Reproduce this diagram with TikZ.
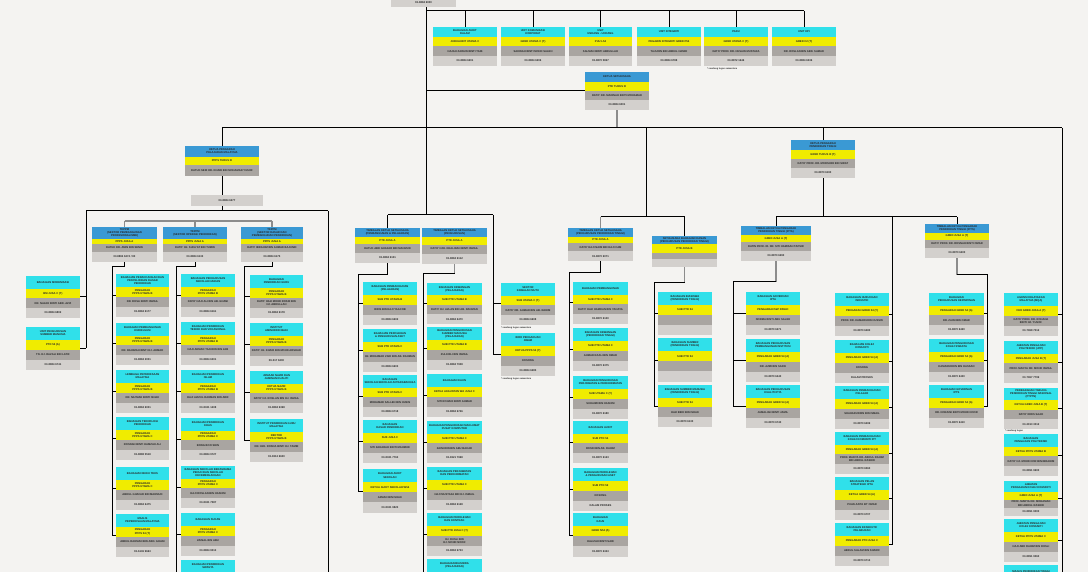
\documentclass[tikz,border=0pt]{standalone}
\usepackage{fontspec}
\setmainfont{Liberation Sans}
\usetikzlibrary{fit}
\definecolor{bg}{HTML}{F4F3F1}
\definecolor{cy}{HTML}{30E0EA}
\definecolor{bl}{HTML}{3A99D4}
\definecolor{yl}{HTML}{F0EC00}
\definecolor{gr}{HTML}{A9A5A1}
\definecolor{lg}{HTML}{D3D0CD}
\definecolor{gl}{HTML}{8C8C8C}
\tikzset{
 ln/.style={draw=black, line width=1pt},
 gln/.style={draw=gl, line width=1.4pt},
 txt/.style={font=\fontsize{2.7}{3.1}\selectfont\bfseries, align=center, inner sep=0pt, text=black!85},
 note/.style={font=\fontsize{2.3}{2.7}\selectfont\bfseries, anchor=north west, inner sep=0pt, text=black!85},
 frame/.style={inner sep=0pt, draw=none},
}
\newcommand\bandset[4]{\def\hcol{#1}\def\fa{#2}\def\fb{#3}\def\fc{#4}}
\newcommand\mkbox[9]{%
 \pgfmathsetmacro\ya{#3+\fa*(#5-(#3))}%
 \pgfmathsetmacro\yb{#3+\fb*(#5-(#3))}%
 \pgfmathsetmacro\yc{#3+\fc*(#5-(#3))}%
 \pgfmathsetmacro\xm{(#2+#4)/2}%
 \fill[\hcol] (#2,#3) rectangle (#4,\ya);
 \fill[yl] (#2,\ya) rectangle (#4,\yb);
 \fill[gr] (#2,\yb) rectangle (#4,\yc);
 \fill[lg] (#2,\yc) rectangle (#4,#5);
 \node[frame, fit={(#2,#3) (#4,#5)}] (#1) {};
 \node[txt] (#1-a) at (\xm,{(#3+\ya)/2}) {#6};
 \node[txt] (#1-b) at (\xm,{(\ya+\yb)/2}) {#7};
 \node[txt] (#1-c) at (\xm,{(\yb+\yc)/2}) {#8};
 \node[txt] (#1-d) at (\xm,{(\yc+#5)/2}) {#9};
}
\newcommand\ob{\bandset{cy}{0.3}{0.53}{0.76}\mkbox}
\begin{document}
\begin{tikzpicture}[x=1pt,y=-1pt]
\useasboundingbox (0,0) rectangle (1088,572);
\fill[bg] (0,0) rectangle (1088,572);
\clip (0,0) rectangle (1088,572);

% ---------- top ----------
\bandset{bl}{0.28}{0.5}{0.76}
\mkbox{top}{391}{-30}{456}{7}{}{}{}{03-8884 6000}

\bandset{cy}{0.26}{0.5}{0.74}
\mkbox{t1}{433}{27}{497}{66}{BAHAGIAN AUDIT\\DALAM}{JURUAUDIT UTAMA C}{HAJAH ZAINUN BINTI TAIB}{03-8884 6201}
\mkbox{t2}{501}{27}{565}{66}{UNIT KOMUNIKASI\\KORPORAT}{GRED UTAMA C (T)}{SAKINAH BINTI MOHD SALEH}{03-8884 6206}
\mkbox{t3}{569}{27}{632}{66}{UNIT\\UNDANG - UNDANG}{PUU L54}{SALMAH BINTI ABDULLAH}{03-8870 5827}
\mkbox{t4}{637}{27}{701}{66}{UNIT INTEGRITI}{PEGAWAI INTEGRITI GRED P54}{TAJUDIN BIN ABDUL HAMID}{03-8884 6788}
\mkbox{t5}{704}{27}{768}{66}{PADU}{GRED UTAMA C (T)}{DATO' PROF. DR. HUSAIN MUSTAFA}{03-8872 1646}
\mkbox{t6}{772}{27}{836}{66}{UNIT KPI}{GRED C2 (T)}{DR. ROSLAN BIN ABD. SAMAD}{03-8884 6336}
\node[note] (nt5) at (707,68) {* sandang tugas sementara};

\bandset{bl}{0.26}{0.5}{0.74}
\mkbox{ksu}{585}{72}{649}{110}{KETUA SETIAUSAHA}{PTD TURUS III}{DATO' DR. MADINAH BINTI MOHAMAD}{03-8884 6001}
\mkbox{kpt}{791}{140}{855}{178}{KETUA PENGARAH\\PENDIDIKAN TINGGI}{GRED TURUS III (T)}{DATO' PROF. DR. MORSHIDI BIN SIRAT}{03-8870 6190}

% KPPM with detached phone band
\fill[bl] (185,146) rectangle (259,157);
\fill[yl] (185,157) rectangle (259,165);
\fill[gr] (185,165) rectangle (259,176);
\node[frame, fit={(185,146) (259,176)}] (kpp) {};
\node[txt] (kpp-a) at (222,151.5) {KETUA PENGARAH\\PELAJARAN MALAYSIA};
\node[txt] (kpp-b) at (222,161) {PPPS TURUS III};
\node[txt] (kpp-c) at (222,170.5) {DATUK SERI DR. KHAIR BIN MOHAMAD YUSOF};
\fill[lg] (191,195) rectangle (263,206);
\node[frame, fit={(191,195) (263,206)}] (kppph) {};
\node[txt] (kppph-t) at (227,200.5) {03-8884 6277};

% TKPPM
\bandset{bl}{0.34}{0.49}{0.71}
\mkbox{tkA}{92}{227}{157}{262}{TKPPM\\(SEKTOR PEMBANGUNAN\\PROFESIONALISME)}{PPPS JUSA A}{DATUK DR. AMIN BIN SENIN}{03-8884 6274 / 80}
\mkbox{tkB}{163}{227}{227}{262}{TKPPM\\(SEKTOR OPERASI PENDIDIKAN)}{PPPS JUSA A}{DATO' HJ. SUFA'AT BIN TUMIN}{03-8884 6133}
\mkbox{tkC}{241}{227}{303}{262}{TKPPM\\(SEKTOR DASAR DAN\\PEMBANGUNAN PENDIDIKAN)}{PPPS JUSA A}{DATO' IBRAHIM BIN AHMAD BAJUNID}{03-8884 6175}

% TKSU and TKPT
\bandset{bl}{0.26}{0.46}{0.71}
\mkbox{s1}{355}{228}{420}{263}{TIMBALAN KETUA SETIAUSAHA\\(PEMBANGUNAN \& PELAJARAN)}{PTD JUSA A}{DATUK ABD GHAFAR BIN MAHMUD}{03-8884 6101}
\mkbox{s2}{422}{228}{487}{264}{TIMBALAN KETUA SETIAUSAHA\\(PENGURUSAN)}{PTD JUSA A}{DATO' HJH. KHALIDAH BINTI ISMAIL}{03-8884 6112}
\mkbox{s3}{568}{228}{633}{261}{TIMBALAN KETUA SETIAUSAHA\\(PENGURUSAN PENDIDIKAN TINGGI)}{PTD JUSA A}{DATO' HAJI NAIM BIN HAJI CAM}{03-8870 6071}
\mkbox{k1}{741}{226}{811}{261}{TIMBALAN KETUA PENGARAH\\PENDIDIKAN TINGGI (IPTA)}{GRED JUSA A (T)}{DATIN PROF. IR. DR. SITI HAMISAH TAPSIR}{03-8870 6290}
\mkbox{k2}{925}{224}{989}{258}{TIMBALAN KETUA PENGARAH\\PENDIDIKAN TINGGI (IPTS)}{GRED JUSA A (T)}{DATO' PROF. DR. ROSNAH BINTI OMAR}{03-8870 6400}
\bandset{bl}{0.26}{0.54}{0.74}
\mkbox{s4}{652}{236}{717}{267}{SETIAUSAHA BAHAGIAN KANAN\\(PENGURUSAN PENDIDIKAN TINGGI)}{PTD JUSA B}{}{}

% ---------- left ----------
\ob{L1}{26}{276}{80}{318}{BAHAGIAN MODENISASI}{BM JUSA C (T)}{DR. NAJAH BINTI ABD. AZIZ}{03-8884 6802}
\ob{L2}{26}{327}{80}{370}{UNIT PENGURUSAN\\SUMBER MANUSIA}{PTD 54 (A)}{TN. HJ. RAZALI BIN LATIF}{03-8884 6741}

\ob{a1}{116}{274}{169}{317}{BAHAGIAN PERANCANGAN DAN\\PENYELIDIKAN DASAR\\PENDIDIKAN}{PENGARAH\\PPPS UTAMA B}{DR. ROSLI BINTI ISMAIL}{03-8884 6177}
\ob{a2}{116}{323}{169}{365}{BAHAGIAN PEMBANGUNAN\\KURIKULUM}{PENGARAH\\PPPS UTAMA B}{DR. RAHIMAH BINTI HJ. AHMAD}{03-8884 2001}
\ob{a3}{116}{370}{169}{413}{LEMBAGA PEPERIKSAAN\\MALAYSIA}{PENGARAH\\PPPS UTAMA B}{DR. NA'IMAH BINTI ISHAK}{03-8884 6001}
\ob{a4}{116}{417}{169}{460}{BAHAGIAN TEKNOLOGI\\PENDIDIKAN}{PENGARAH\\PPPS UTAMA C}{ROSNAH BINTI HAMZAH ALI}{03-8888 5518}
\ob{a5}{116}{467}{169}{510}{BAHAGIAN BUKU TEKS}{PENGARAH\\PPPS UTAMA C}{ABDUL GHAFAR BIN MAHMUD}{03-8884 6475}
\ob{a6}{116}{514}{169}{557}{MAJLIS\\PEPERIKSAAN MALAYSIA}{PENGARAH\\PPPS 54 (T)}{ABDUL RAHMAN BIN ABD. GHANI}{03-6136 9663}

\ob{b1}{181}{274}{235}{317}{BAHAGIAN PENGURUSAN\\SEKOLAH HARIAN}{PENGARAH\\PPPS UTAMA B}{DATO' HAJI ALI BIN AB. GHANI}{03-8884 6161}
\ob{b2}{181}{322}{235}{365}{BAHAGIAN PENDIDIKAN\\TEKNIK DAN VOKASIONAL}{PENGARAH\\PPPS UTAMA B}{HAJI AHMAD TAJUDIN BIN JAB}{03-8884 6301}
\ob{b3}{181}{370}{235}{413}{BAHAGIAN PENDIDIKAN\\ISLAM}{PENGARAH\\PPPS UTAMA B}{HAJI AZIZUL RAHMAN BIN ARIF}{03-8321 1408}
\ob{b4}{181}{418}{235}{460}{BAHAGIAN PENDIDIKAN\\KHAS}{PENGARAH\\PPPS UTAMA C}{BONG BOO SHIN}{03-8884 9727}
\ob{b5}{181}{466}{235}{508}{BAHAGIAN SEKOLAH BERASRAMA\\PENUH DAN SEKOLAH\\KECEMERLANGAN}{PENGARAH\\PPPS UTAMA C}{HAJI ROSLAN BIN HASHIM}{03-8321 7587}
\ob{b6}{181}{513}{235}{556}{BAHAGIAN SUKAN}{PENGARAH\\PPPS UTAMA C}{ZAINAL BIN ABU}{03-8884 9013}
\ob{b7}{181}{560}{235}{603}{BAHAGIAN PENDIDIKAN\\SWASTA}{}{}{}

\ob{c1}{250}{275}{303}{318}{BAHAGIAN\\PENDIDIKAN GURU}{PENGARAH\\PPPS UTAMA B}{DATO' HAJI MOHD ROSDI BIN\\HJ. ABDULLAH}{03-8884 6178}
\ob{c2}{250}{323}{303}{366}{INSTITUT\\AMINUDDIN BAKI}{PENGARAH\\PPPS UTAMA B}{DATO' HJ. KHAIR BIN MOHD ARSHAD}{09-517 6200}
\ob{c3}{250}{371}{303}{413}{JEMAAH NAZIR DAN\\JAMINAN KUALITI}{KETUA NAZIR\\PPPS UTAMA B}{DATO' HJ. ROSLAN BIN HJ. ISMAIL}{03-8884 6398}
\ob{c4}{250}{419}{303}{462}{INSTITUT PENDIDIKAN GURU\\MALAYSIA}{REKTOR\\PPPS UTAMA B}{DR. HJH. ROSNA BINTI HJ. TAMBI}{03-8312 6600}

% ---------- middle ----------
\ob{p1}{363}{282}{417}{325}{BAHAGIAN PEMBANGUNAN\\(PELAJARAN)}{SUB PTD UTAMA B}{IDRIS BIN HAJI YAACOB}{03-8884 6602}
\ob{p2}{363}{329}{417}{372}{BAHAGIAN PEROLEHAN\\\& PENGURUSAN ASET}{SUB PTD UTAMA C}{HJ. MOHAMAD ZAID BIN AB. RAHMAN}{03-8884 6603}
\ob{p3}{363}{375}{417}{417}{BAHAGIAN\\SEKOLAH-SEKOLAH ANTARABANGSA}{SUB PTD UTAMA C}{MOHAMAD SALLEH BIN HUSIN}{03-8884 6718}
\ob{p4}{363}{420}{417}{463}{BAHAGIAN\\DASAR PENDIDIKAN}{SUB JUSA C}{SITI ZAHARAH BINTI MAHMUD}{03-8321 7763}
\ob{p5}{363}{469}{417}{513}{BAHAGIAN AUDIT\\SEKOLAH}{KETUA AUDIT SEKOLAH W54}{AZMAN BIN ISHAK}{03-8321 9823}

\ob{q1}{427}{283}{482}{324}{BAHAGIAN KEWANGAN\\(PELAJARAN)}{SUB PTD UTAMA B}{DATO' HJ. AZLAN BIN AB. RAHMAN}{03-8884 6470}
\ob{q2}{427}{327}{482}{370}{BAHAGIAN PENGURUSAN\\SUMBER MANUSIA\\(PELAJARAN)}{SUB PTD UTAMA B}{ZULKIFLI BIN ISMAIL}{03-8884 7908}
\ob{q3}{427}{374}{482}{417}{BAHAGIAN KAUN}{KETUA AKAUNTAN WA JUSA C}{SITI ROHANI BINTI AHMAD}{03-8884 6746}
\ob{q4}{427}{421}{482}{463}{BAHAGIAN PENGURUSAN MAKLUMAT\\PUSAT KOMPUTER}{SUB PTD UTAMA C}{ZAINUDIN BIN ABU BAKAR}{03-8321 7968}
\ob{q5}{427}{467}{482}{510}{BAHAGIAN PERJAWATAN\\DAN PERKHIDMATAN}{SUB PTD UTAMA C}{HAJI MUSTAFA BIN HJ. ISMAIL}{03-8884 6128}
\ob{q6}{427}{513}{482}{556}{BAHAGIAN PEROLEHAN\\DAN KONTRAK}{SUB PTD JUSA C (T)}{HJ. RUSLI BIN\\HJ. MOHD NOOR}{03-8884 6733}
\ob{q7}{427}{559}{482}{602}{BAHAGIAN BIASISWA\\(PELAJARAN)}{}{}{}

\ob{r1}{501}{283}{555}{325}{SEKTOR\\KAWALAN MUTU}{SUB UTAMA C (T)}{DATO' DR. AHMAD BIN AB. RAHIM}{03-8884 6608}
\ob{r2}{501}{333}{555}{376}{BIRO PENGADUAN\\AWAM}{KETUA PPPS 54 (T)}{KOSONG}{03-8884 6285}
\node[note] (nr1) at (501,326.5) {* sandang tugas sementara};
\node[note] (nr2) at (501,377.5) {* sandang tugas sementara};

% ---------- centre ----------
\ob{m1}{573}{282}{628}{324}{BAHAGIAN PEMBANGUNAN}{SUB PTD UTAMA C}{DATO' HAJI HAMDAN BIN YAHAYA}{03-8870 6130}
\ob{m2}{573}{328}{628}{371}{BAHAGIAN KEWANGAN\\(PENDIDIKAN TINGGI)}{SUB PTD UTAMA C}{AHMAD RAZLI BIN OMAR}{03-8870 6375}
\ob{m3}{573}{376}{628}{419}{BAHAGIAN PENGURUSAN\\PERJAWATAN \& PERKHIDMATAN}{SUB UTAMA C (T)}{SUHAIMI BIN HASHIM}{03-8870 6180}
\ob{m4}{573}{421}{628}{463}{BAHAGIAN AUDIT}{SUB PTD 54}{ROSDI BIN AB. RAHIM}{03-8870 6123}
\ob{m5}{573}{468}{628}{511}{BAHAGIAN PEROLEHAN\\\& PENGURUSAN ASET}{SUB PTD 52}{KOSONG}{DALAM PROSES}
\ob{m6}{573}{513}{628}{557}{BAHAGIAN\\KAUN}{GRED N54 (A)}{HALIZAH BINTI SAID}{03-8870 6343}

\ob{n1}{658}{292}{712}{335}{BAHAGIAN BIASISWA\\(PENDIDIKAN TINGGI)}{SUB PTD 54}{}{}
\ob{n2}{658}{338}{712}{382}{BAHAGIAN SUMBER\\(PENDIDIKAN TINGGI)}{SUB PTD 54}{}{}
\ob{n3}{658}{385}{712}{427}{BAHAGIAN SUMBER MANUSIA\\(PENDIDIKAN TINGGI)}{SUB PTD 54}{HAJI BEDI BIN ISHAK}{03-8870 6130}

% ---------- right ----------
\ob{u1}{746}{292}{800}{335}{BAHAGIAN GOVERNAN\\IPTA}{PENGARAH P\&P DS54C}{NORMA BINTI ABU SALEH}{03-8870 6271}
\ob{u2}{746}{339}{800}{382}{BAHAGIAN PENGURUSAN\\PEMBANGUNAN INSTITUSI}{PENGARAH GRED 54 (A)}{DR. AZMI BIN SAFIE}{03-8870 6440}
\ob{u3}{746}{385}{800}{428}{BAHAGIAN PENGURUSAN\\KUALITI IPTA}{PENGARAH GRED 54 (A)}{JAMALIAH BINTI JAMIL}{03-8870 6740}

\ob{v1}{835}{293}{889}{336}{BAHAGIAN HUBUNGAN\\INDUSTRI}{PENGARAH GRED 54 (T)}{PROF. DR. KAMARUDIN HUSSIN}{03-8870 6480}
\ob{v2}{835}{340}{889}{383}{BAHAGIAN KOLEJ\\KOMUNITI}{PENGARAH GRED 54 (A)}{KOSONG}{DALAM PROSES}
\ob{v3}{835}{386}{889}{429}{BAHAGIAN PEMBANGUNAN\\PELAJAR}{PENGARAH GRED 54 (A)}{SHAHARUDDIN BIN ISMAIL}{03-8870 6499}
\ob{v4}{835}{432}{889}{474}{BAHAGIAN PEMBANGUNAN\\KOLEJ KOMUNITI IPT}{PENGARAH GRED 54 (A)}{PROF. MADYA DR. ABDUL RAHIM\\BIN ABDUL RASHID}{03-8870 6560}
\ob{v5}{835}{477}{889}{520}{BAHAGIAN PELAN\\STRATEGIK IPTA}{KETUA GRED 54 (A)}{PUAN AZITA BT OMAR}{03-8870 6707}
\ob{v6}{835}{523}{889}{566}{BAHAGIAN EKSEKUTIF\\PELABURAN}{PENGARAH PTD JUSA C}{ABDUL SALAM BIN SHARIF}{03-8870 6713}

\ob{w1}{929}{293}{984}{335}{BAHAGIAN\\PENGURUSAN KEPIMPINAN}{PENGARAH GRED 54 (A)}{DR. ZAINI BIN OMAR}{03-8870 6420}
\ob{w2}{929}{339}{984}{382}{BAHAGIAN PENGURUSAN\\KOLEJ SWASTA}{PENGARAH GRED 54 (A)}{KAMARUDDIN BIN HASSAN}{03-8870 6430}
\ob{w3}{929}{385}{984}{428}{BAHAGIAN GOVERNAN\\IPTS}{PENGARAH GRED 54 (A)}{DR. NORAINI BINTI MOHD NOOR}{03-8870 6410}

\ob{x1}{1004}{293}{1058}{336}{AGENSI KELAYAKAN\\MALAYSIA (MQA)}{CEO GRED JUSA A (T)}{DATO' PROF. DR. ROHANA\\BINTI HJ. YUSOF}{03-7968 7012}
\ob{x2}{1004}{341}{1058}{383}{JABATAN PENGAJIAN\\POLITEKNIK (JPP)}{PENGARAH JUSA B (T)}{PROF. MADYA DR. MOHD ISMAIL}{03-7967 7799}
\ob{x3}{1004}{388}{1058}{429}{PERBADANAN TABUNG\\PENDIDIKAN TINGGI NASIONAL\\(PTPTN)}{KETUA GRED JUSA B (T)}{DATO' IDRIS SAAD}{03-2193 3012}
\node[note] (nx3) at (1005,430) {* sandang tugas};
\ob{x4}{1004}{434}{1058}{476}{BAHAGIAN\\PENGAJIAN POLITEKNIK}{KETUA PPPS UTAMA B}{DATO' HJ. MOHD NOR BIN IBRAHIM}{03-8891 9600}
\ob{x5}{1004}{481}{1058}{516}{JABATAN\\PENGAJIAN KOLEJ KOMUNITI}{GRED JUSA A (T)}{PROF. MADYA DR. MOHAMAD\\BIN ABDUL RASHID}{03-8891 9000}
\ob{x6}{1004}{519}{1058}{562}{JABATAN PENGAJIAN\\KOLEJ KOMUNITI}{KETUA PPPS UTAMA C}{HAJI ABD RAHIM BIN ROSLI}{03-8891 9060}
\ob{x7}{1004}{565}{1058}{608}{MAJLIS PENDIDIKAN TINGGI}{}{}{}

% ================= connectors =================
% trunk and top row
\draw[ln] (426,0 |- top.south) -- (426,215);
\draw[ln] (426,11) -- (t6.north |- 0,11);
\foreach \n in {t1,t2,t3,t4,t5,t6} \draw[ln] (\n.north) -- (\n.north |- 0,11);
\draw[ln] (426,0 |- ksu.west) -- (ksu.west);
\draw[gln] (ksu.south) -- (ksu.south |- 0,128);
\draw[ln] (kpp.north |- 0,128) -- (1062,128);
\draw[ln] (1062,128) -- (1062,580);
\foreach \n in {x1,x2,x3,x4,x5,x6} \draw[ln] (\n.east) -- (1062,0 |- \n.east);

% KPPM branch
\draw[ln] (kpp.north) -- (kpp.north |- 0,128);
\draw[ln] (kpp.south) -- (kpp.south |- kppph.north);
\draw[ln] (kpp.south |- kppph.south) -- (kpp.south |- 0,211);
\draw[ln] (86,211) -- (328,211);
\draw[ln] (86,211) -- (86,0 |- L2.east);
\foreach \n in {L1,L2} \draw[ln] (\n.east) -- (86,0 |- \n.east);
\draw[ln] (328,211) -- (328,580);
\draw[gln] (tkA.north |- 0,221) -- (tkC.north |- 0,221);
\foreach \n in {tkA,tkB,tkC} \draw[gln] (\n.north) -- (\n.north |- 0,221);

\draw[ln] (tkA.south) -- (tkA.south |- 0,267) -- (112,267) -- (112,0 |- a6.west);
\foreach \n in {a1,a2,a3,a4,a5,a6} \draw[ln] (\n.west) -- (112,0 |- \n.west);
\draw[ln] (tkB.south) -- (tkB.south |- 0,267) -- (176,267) -- (176,580);
\foreach \n in {b1,b2,b3,b4,b5,b6,b7} \draw[ln] (\n.west) -- (176,0 |- \n.west);
\draw[ln] (tkC.south) -- (tkC.south |- 0,267) -- (244,267) -- (244,0 |- c4.west);
\foreach \n in {c1,c2,c3,c4} \draw[ln] (\n.west) -- (244,0 |- \n.west);

% TKSU branch
\draw[ln] (s1.north |- 0,215) -- (493,215);
\draw[ln] (s1.north) -- (s1.north |- 0,215);
\draw[ln] (493,215) -- (493,0 |- r2.west);
\foreach \n in {r1,r2} \draw[ln] (\n.west) -- (493,0 |- \n.west);
\draw[ln] (s1.south) -- (s1.south |- 0,275) -- (358,275) -- (358,0 |- p5.west);
\foreach \n in {p1,p2,p3,p4,p5} \draw[ln] (\n.west) -- (358,0 |- \n.west);
\draw[gln] (s2.south) -- (s2.south |- 0,274);
\draw[ln] (s2.south |- 0,274) -- (423,274) -- (423,580);
\foreach \n in {q1,q2,q3,q4,q5,q6,q7} \draw[ln] (\n.west) -- (423,0 |- \n.west);

% centre branch
\draw[ln] (646,128) -- (646,217);
\draw[ln] (s3.north |- 0,217) -- (s4.north |- 0,217);
\draw[gln] (s3.north) -- (s3.north |- 0,217);
\draw[ln] (s4.north) -- (s4.north |- 0,217);
\draw[ln] (s3.south) -- (s3.south |- 0,273) -- (569,273) -- (569,0 |- m6.west);
\foreach \n in {m1,m2,m3,m4,m5,m6} \draw[ln] (\n.west) -- (569,0 |- \n.west);
\draw[gln] (s4.south) -- (s4.south |- 0,283);
\draw[ln] (s4.south |- 0,283) -- (654,283) -- (654,0 |- n3.west);
\foreach \n in {n1,n2,n3} \draw[ln] (\n.west) -- (654,0 |- \n.west);

% KPT branch
\draw[ln] (kpt.north) -- (kpt.north |- 0,128);
\draw[ln] (kpt.south) -- (kpt.south |- 0,217);
\draw[ln] (k1.north |- 0,217) -- (k2.north |- 0,217);
\foreach \n in {k1,k2} \draw[ln] (\n.north) -- (\n.north |- 0,217);
\draw[ln] (892,217) -- (892,0 |- v6.east);
\foreach \n in {v1,v2,v3,v4,v5,v6} \draw[ln] (\n.east) -- (892,0 |- \n.east);
\draw[gln] (k1.south) -- (k1.south |- 0,282);
\draw[ln] (k1.south |- 0,282) -- (733,282) -- (733,0 |- u3.west);
\foreach \n in {u1,u2,u3} \draw[ln] (\n.west) -- (733,0 |- \n.west);
\draw[gln] (k2.south) -- (k2.south |- 0,275);
\draw[ln] (k2.south |- 0,275) -- (987,275) -- (987,0 |- w3.east);
\foreach \n in {w1,w2,w3} \draw[ln] (\n.east) -- (987,0 |- \n.east);
\end{tikzpicture}
\end{document}
